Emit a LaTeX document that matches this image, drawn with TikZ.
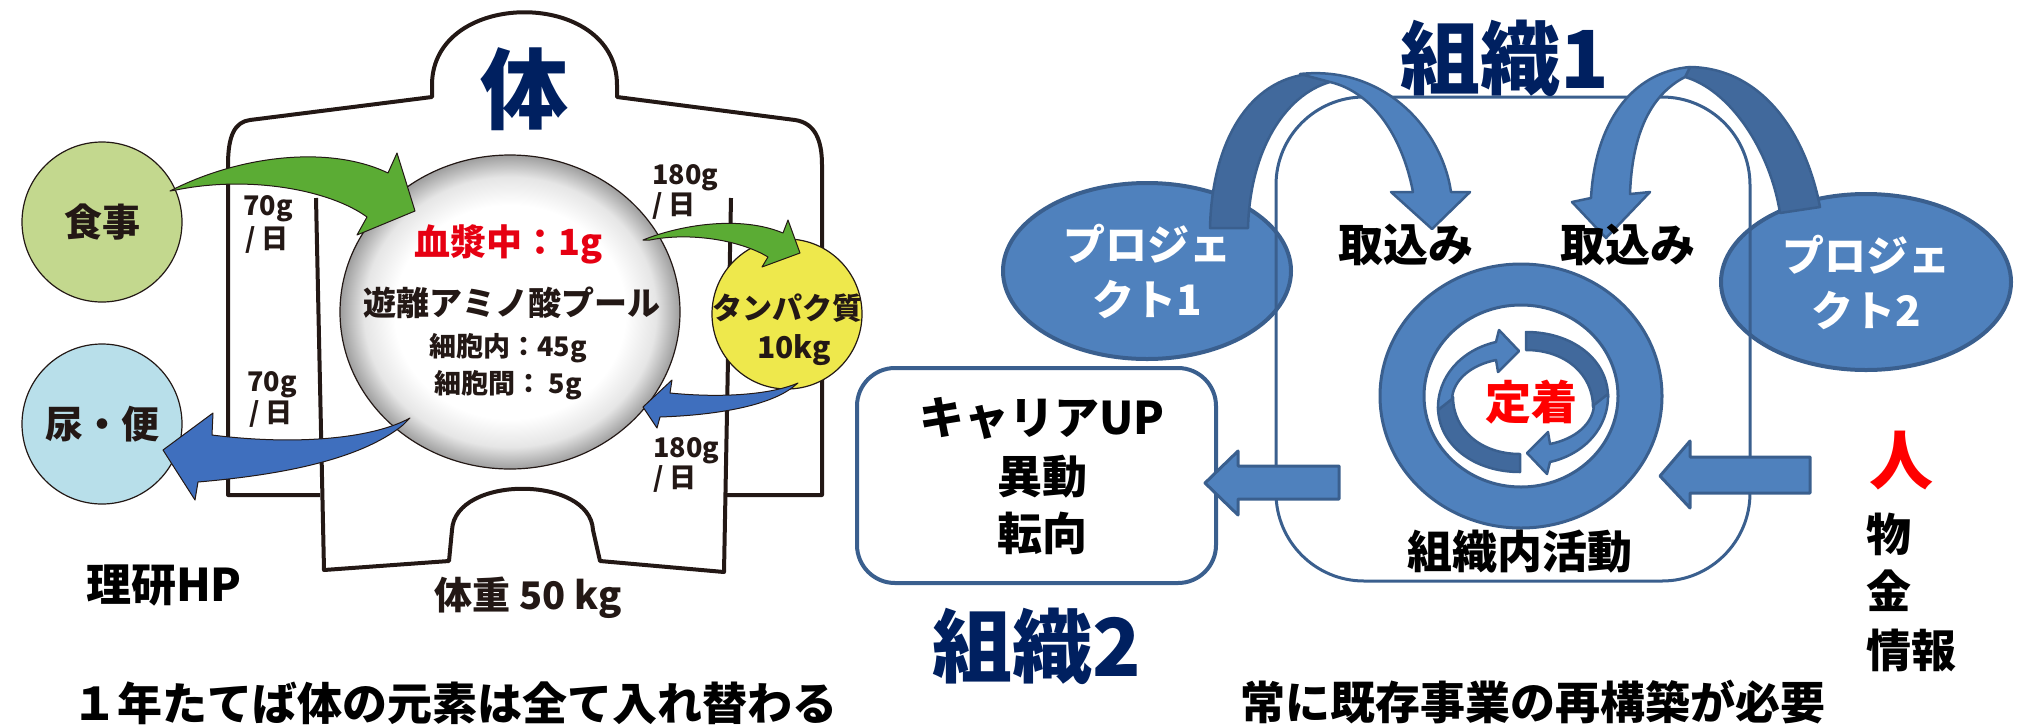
\documentclass[tikz,border=0pt]{standalone}
\usepackage{fontspec}
\setmainfont{Noto Sans CJK JP}
\usetikzlibrary{shapes.geometric}
\definecolor{navy}{HTML}{002060}
\definecolor{ink}{HTML}{231815}
\definecolor{bred}{HTML}{E60012}
\definecolor{food}{HTML}{C3D88E}
\definecolor{urine}{HTML}{B8DFEA}
\definecolor{yel}{HTML}{EEE84C}
\definecolor{grn}{HTML}{5BAC34}
\definecolor{blu}{HTML}{3F6FBE}
\definecolor{pb}{HTML}{4F81BD}
\definecolor{pbd}{HTML}{41699C}
\definecolor{pbs}{HTML}{3A5F8E}
\newcommand{\fsz}[1]{\fontsize{#1}{#1}\selectfont}
\pgfdeclareradialshading{spheresh}{\pgfpoint{0bp}{0bp}}{color(0bp)=(white); color(17bp)=(white); color(21.5bp)=(black!10); color(25bp)=(black!38); color(50bp)=(black!38)}
\begin{document}
\begin{tikzpicture}[x=1pt,y=-1pt,
  body/.style={draw=ink, line width=4pt, line join=round},
  bubble/.style={circle, draw=ink, line width=1.2pt, inner sep=0pt, text=ink, font=\bfseries\fsz{38}},
  lbl/.style={inner sep=0pt, text=ink, font=\bfseries\fsz{27}},
  fat/.style={draw=ink, line width=1pt, line join=round},
  proj/.style={ellipse, fill=pb, draw=pbs, line width=4pt, inner sep=0pt, text=white, align=center, font=\bfseries\fontsize{42}{55}\selectfont},
  blk/.style={fill=pb, draw=pbs, line width=3pt, line join=round},
  cdark/.style={fill=pbd, draw=pbs, line width=2.5pt, line join=round},
  clight/.style={fill=pb, draw=pbs, line width=2.5pt, line join=round},
  txt/.style={inner sep=0pt, text=black, font=\bfseries\fsz{45}},
  big/.style={inner sep=0pt, text=navy, font=\bfseries\fsz{80}}
]
\useasboundingbox (0,0) rectangle (2021,724);

% ---------------- left: body ----------------
\draw[body] (316,198) -- (324,570) -- (449,561) -- (452,530)
  .. controls (455,475) and (590,475) .. (593,530) -- (600,561) -- (724,572) -- (731,198);
\draw[body] (320,495) -- (228,495) -- (228,165) .. controls (228,135) and (235,122) .. (250,120)
  -- (432,97) -- (432,85) .. controls (432,-12) and (617,-12) .. (617,85) -- (617,97)
  -- (795,120) .. controls (815,123) and (822,140) .. (822,165) -- (822,495) -- (727,495);

\node[inner sep=0pt, text=navy, font=\bfseries\fsz{88}] (karada) at (524,89) {体};

\node[ellipse, minimum width=340pt, minimum height=314pt, draw=ink, line width=1.2pt, shading=spheresh] (pool) at (510,312) {};
\node[bubble, fill=food, minimum size=160pt] (food) at (102,222) {食事};
\node[bubble, fill=urine, minimum size=160pt] (urine) at (102,424) {尿・便};
\node[circle, draw=ink, line width=1.2pt, fill=yel, minimum size=150pt, inner sep=0pt] (prot) at (787,314) {};

\node[inner sep=0pt, text=bred, font=\bfseries\fsz{36}] (plasma) at (509,244) {血漿中：1g};
\node[inner sep=0pt, text=ink, font=\bfseries\fsz{33}] (poolt) at (512,303) {遊離アミノ酸プール};
\node[inner sep=0pt, text=ink, font=\bfseries\fsz{27}] (intra) at (508,348) {細胞内：45g};
\node[inner sep=0pt, text=ink, font=\bfseries\fsz{27}] (inter) at (508,385) {細胞間： 5g};
\node[inner sep=0pt, text=ink, font=\bfseries\fsz{30}] (protA) at (787,308) {タンパク質};
\node[inner sep=0pt, text=ink, font=\bfseries\fsz{30}] (protB) at (794,350) {10kg};

\node[lbl, anchor=west] (a1) at (243,209) {70g};
\node[lbl, anchor=west] (a2) at (245,240) {/ 日};
\node[lbl, anchor=west] (b1) at (247,385) {70g};
\node[lbl, anchor=west] (b2) at (249,414) {/ 日};
\node[lbl, anchor=west] (c1) at (652,178) {180g};
\node[lbl, anchor=west] (c2) at (652,206) {/ 日};
\node[lbl, anchor=west] (d1) at (653,451) {180g};
\node[lbl, anchor=west] (d2) at (653,479) {/ 日};

% green / blue curved arrows
\filldraw[fat, fill=grn] (170,191) .. controls (240,155) and (330,145) .. (388,173)
  -- (397,153) -- (415,211) -- (357,235) -- (367,217)
  .. controls (330,190) and (250,175) .. (176,190) -- cycle;
\filldraw[fat, fill=grn] (643,240) .. controls (680,225) and (740,215) .. (783,233)
  -- (788,220) -- (800,253) -- (762,267) -- (768,257)
  .. controls (740,240) and (690,232) .. (650,240) -- cycle;
\filldraw[fat, fill=blu] (410,418) .. controls (370,440) and (290,445) .. (212,435)
  -- (213,413) -- (163,450) -- (195,500) -- (198,482)
  .. controls (280,475) and (360,460) .. (403,425) -- cycle;
\filldraw[fat, fill=blu] (798,383) .. controls (770,395) and (720,398) .. (670,393)
  -- (672,380) -- (643,407) -- (657,428) -- (660,417)
  .. controls (720,415) and (770,405) .. (793,387) -- cycle;

\node[inner sep=0pt, text=ink, font=\bfseries\fsz{38}] (weight) at (528,598) {体重 50 kg};
\node[inner sep=0pt, text=black, font=\bfseries\fsz{45}] (riken) at (164,585) {理研HP};
\node[inner sep=0pt, text=black, font=\bfseries\fsz{45}] (capL) at (455,703) {１年たてば体の元素は全て入れ替わる};

% ---------------- right ----------------
\node[proj, minimum width=288pt, minimum height=176pt] (p1) at (1147,271) {プロジェ\\クト1};
\node[proj, minimum width=290pt, minimum height=176pt] (p2) at (1866,282) {プロジェ\\クト2};
\node[draw=pbs, line width=3pt, rounded corners=88pt, minimum width=474pt, minimum height=484pt] (org1) at (1513,339) {};
\node[draw=pbs, fill=white, line width=4pt, rounded corners=38pt, minimum width=359pt, minimum height=215pt] (career) at (1036.5,475.5) {};

% curved arrow 1
\filldraw[cdark] (1210,228) .. controls (1212,140) and (1250,80) .. (1309,74)
  -- (1330,82) .. controls (1285,95) and (1250,150) .. (1248,228) -- cycle;
\filldraw[clight] (1300,74) .. controls (1385,65) and (1442,130) .. (1451,192)
  -- (1470,192) -- (1432,229) -- (1391,192) -- (1413,192)
  .. controls (1402,135) and (1372,92) .. (1330,82) -- cycle;
% curved arrow 2
\filldraw[cdark] (1820,207) .. controls (1805,130) and (1760,68) .. (1690,67)
  -- (1685,77) .. controls (1730,90) and (1770,150) .. (1780,213) -- cycle;
\filldraw[clight] (1690,67) .. controls (1630,72) and (1595,125) .. (1591,198)
  -- (1572,202) -- (1606,238) -- (1650,192) -- (1630,194)
  .. controls (1632,135) and (1650,95) .. (1685,77) -- cycle;

% ring
\coordinate (ringc) at (1521,396);
\path[fill=pb, draw=pbs, line width=3pt, even odd rule]
  (ringc) ellipse [x radius=141pt, y radius=132pt]
  (ringc) ellipse [x radius=97pt, y radius=91pt];
% cycle arrows
\foreach \r in {0,180}{
\begin{scope}[shift={(1523,402)}, rotate=\r]
  \filldraw[cdark] (3,-70) .. controls (50,-70) and (85,-42) .. (85,-5) -- (70,5)
    .. controls (70,-28) and (42,-52) .. (3,-52) -- cycle;
  \filldraw[clight] (85,-8) .. controls (86,25) and (62,52) .. (27,60) -- (24,72) -- (4,51)
    -- (25,30) -- (27,42) .. controls (52,37) and (70,22) .. (71,3) -- cycle;
\end{scope}}

% block arrows
\filldraw[blk] (1339,466) -- (1238,466) -- (1238,451) -- (1205,483) -- (1238,515) -- (1238,499) -- (1339,499) -- cycle;
\filldraw[blk] (1810,457) -- (1690,457) -- (1690,441) -- (1660,476) -- (1690,508) -- (1690,493) -- (1810,493) -- cycle;

\node[big] (t1) at (1505,58) {組織1};
\node[big] (t2) at (1037,646) {組織2};
\node[txt] (tk1) at (1406,245) {取込み};
\node[txt] (tk2) at (1628,245) {取込み};
\node[inner sep=0pt, text=red, font=\bfseries\fsz{46}] (teichaku) at (1531,402) {定着};
\node[txt] (act) at (1520,552) {組織内活動};
\node[txt] (cu) at (1042,418) {キャリアUP};
\node[txt] (id) at (1042,477) {異動};
\node[txt] (tk) at (1042,533) {転向};
\node[inner sep=0pt, text=red, font=\bfseries\fsz{64}] (hito) at (1901,461) {人};
\node[txt, anchor=west] (mono) at (1866,534) {物};
\node[txt, anchor=west] (kane) at (1866,591) {金};
\node[txt, anchor=west] (info) at (1866,650) {情報};
\node[txt] (capR) at (1533,702) {常に既存事業の再構築が必要};
\end{tikzpicture}
\end{document}
